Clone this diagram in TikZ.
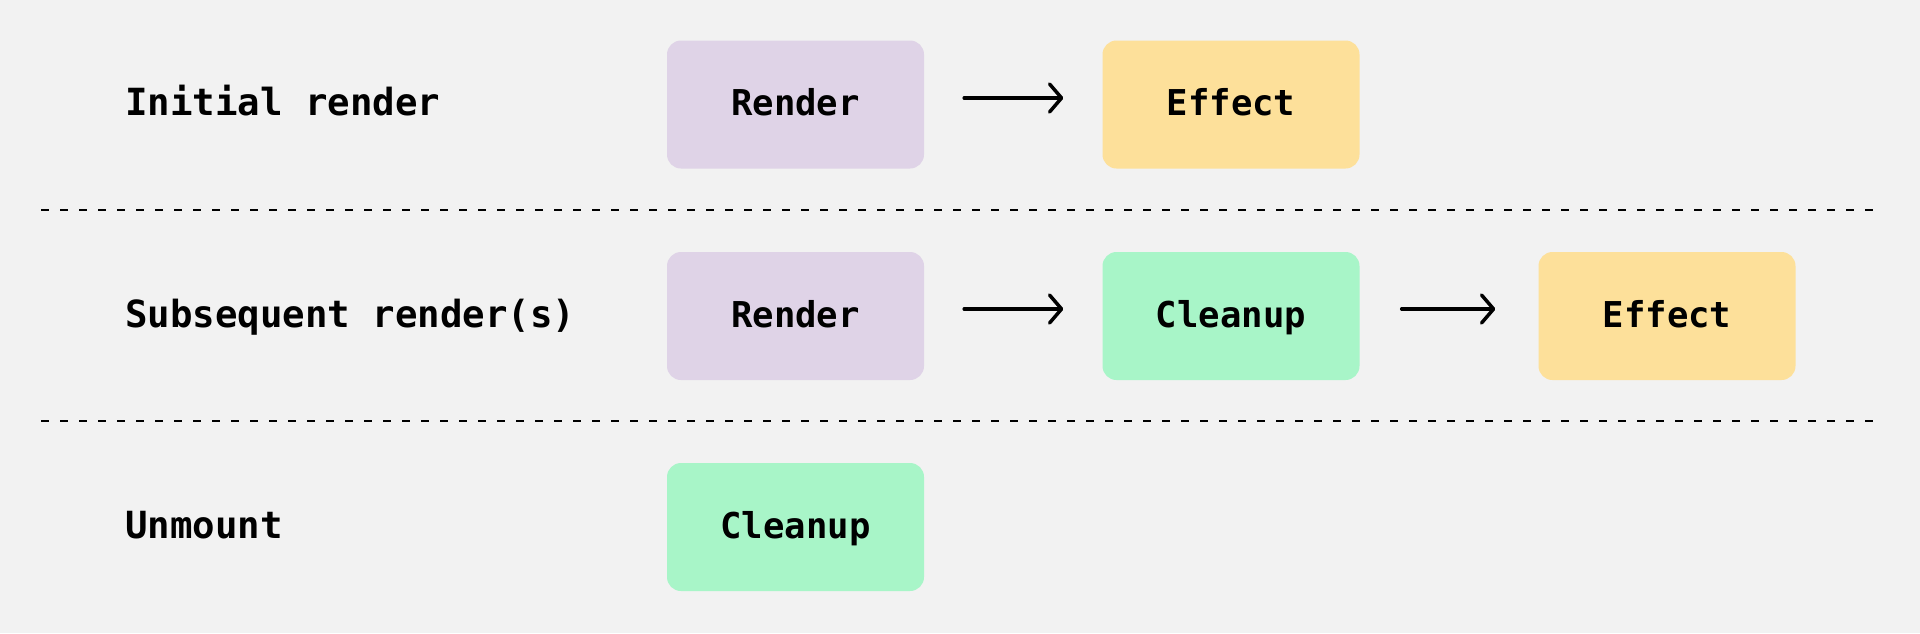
\documentclass[tikz,border=0pt]{standalone}
\usepackage{fontspec}
\setmonofont{DejaVu Sans Mono}[BoldFont={DejaVu Sans Mono Bold}]
\usetikzlibrary{arrows.meta}
\definecolor{bgc}{HTML}{F2F2F2}
\definecolor{renderc}{HTML}{DFD3E7}
\definecolor{effectc}{HTML}{FDE09A}
\definecolor{cleanc}{HTML}{A8F5C8}
\tikzset{
  box/.style={rounded corners=14pt, minimum width=257pt, minimum height=128pt,
    inner sep=0pt, text height=30pt, text depth=8pt, font=\ttfamily\bfseries\fontsize{35.6}{40}\selectfont},
  lbl/.style={anchor=base west, inner sep=0pt, font=\ttfamily\bfseries\fontsize{37.4}{42}\selectfont},
  arr/.style={line width=3.5pt, line cap=round, -{Straight Barb[length=12pt,width=28pt,round]}},
  sep/.style={line width=2pt, dash pattern=on 8pt off 11pt},
}
\begin{document}
\begin{tikzpicture}[x=1pt,y=1pt]
\fill[bgc] (0,0) rectangle (1920,-633);
\useasboundingbox (0,0) rectangle (1920,-633);
% row 1
\node[lbl] (l1) at (125,-115) {Initial render};
\node[box, fill=renderc] (r1) at (795.5,-104.5) {Render};
\node[box, fill=effectc] (e1) at (1231,-104.5) {Effect};
\draw[arr, shorten <=40pt, shorten >=39pt] ([yshift=6.5pt]r1.east) -- ([yshift=6.5pt]e1.west);
% separator 1
\coordinate (s1a) at (41,-210);
\coordinate (s1b) at (1879,-210);
\draw[sep] (s1a) -- (s1b);
% row 2
\node[lbl] (l2) at (125,-327) {Subsequent render(s)};
\node[box, fill=renderc] (r2) at (795.5,-316) {Render};
\node[box, fill=cleanc] (c2) at (1231,-316) {Cleanup};
\node[box, fill=effectc] (e2) at (1667,-316) {Effect};
\draw[arr, shorten <=40pt, shorten >=39pt] ([yshift=7pt]r2.east) -- ([yshift=7pt]c2.west);
\draw[arr, shorten <=42pt, shorten >=43pt] ([yshift=7pt]c2.east) -- ([yshift=7pt]e2.west);
% separator 2
\coordinate (s2a) at (41,-420.5);
\coordinate (s2b) at (1879,-420.5);
\draw[sep] (s2a) -- (s2b);
% row 3
\node[lbl] (l3) at (125,-538) {Unmount};
\node[box, fill=cleanc] (c3) at (795.5,-527) {Cleanup};
\end{tikzpicture}
\end{document}
